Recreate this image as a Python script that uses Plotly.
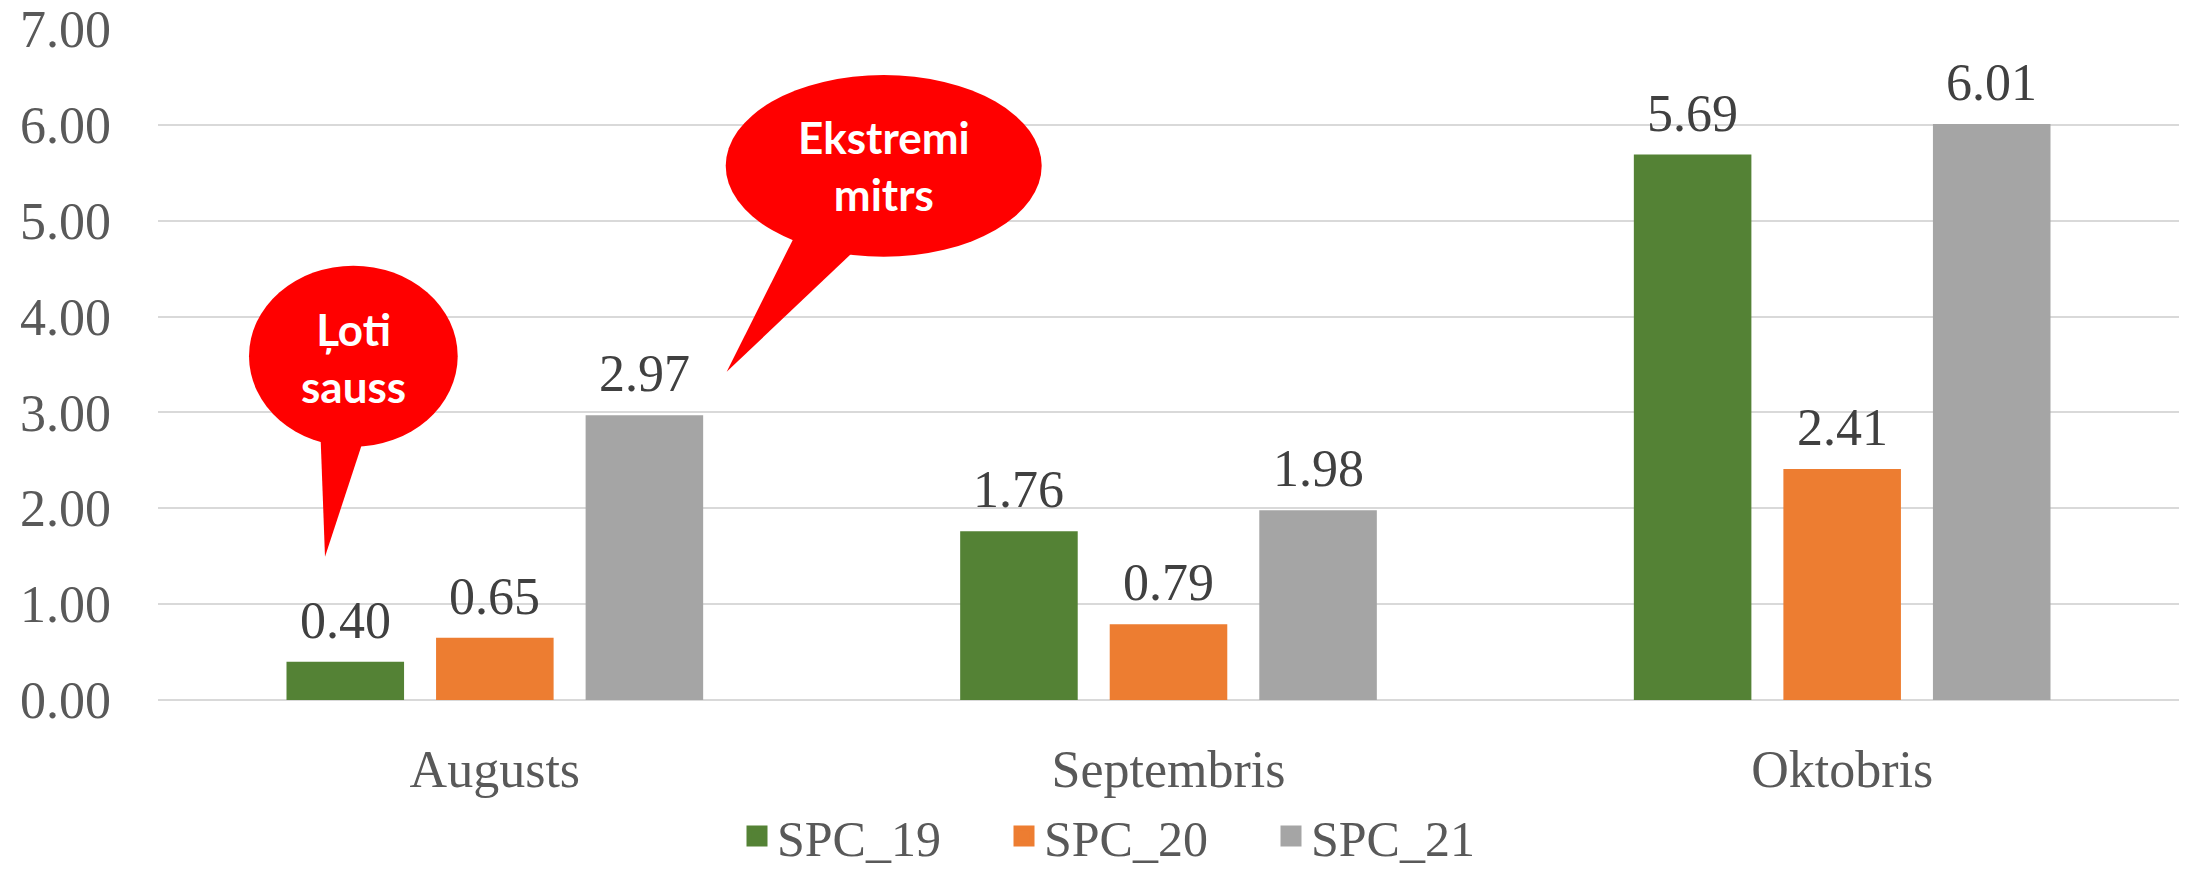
import plotly.graph_objects as go

# ---------------- data ----------------
categories = ["Augusts", "Septembris", "Oktobris"]
series_names = ["SPC_19", "SPC_20", "SPC_21"]
spc_19 = [0.40, 1.76, 5.69]
spc_20 = [0.65, 0.79, 2.41]
spc_21 = [2.97, 1.98, 6.01]
series_colors = ["#548235", "#ED7D31", "#A5A5A5"]
y_tick_values = [0, 1, 2, 3, 4, 5, 6, 7]
y_tick_labels = ["0.00", "1.00", "2.00", "3.00", "4.00", "5.00", "6.00", "7.00"]
callout_texts = ["Ļoti<br>sauss", "Ekstremi<br>mitrs"]

# ---------------- layout geometry (pixels) ----------------
W, H = 2190, 870
ML, MR, MT, MB = 158, 11, 29, 170
PW, PH = W - ML - MR, H - MT - MB

# bar geometry in category units (slot / width of a bar inside its group)
SLOT = 0.222
BAR_W = 0.1745
OFFSETS = [-SLOT, 0.0, SLOT]


def xp(px):
    return (px - ML) / PW


def yp(py):
    return (H - MB - py) / PH


serif = "Liberation Serif, Times New Roman, serif"

fig = go.Figure()
annotations = []
x_idx = list(range(len(categories)))
for k, (name, vals, col) in enumerate(zip(series_names, [spc_19, spc_20, spc_21], series_colors)):
    fig.add_trace(go.Bar(
        x=categories, y=vals, name=name,
        marker=dict(color=col, line=dict(width=0)),
        width=BAR_W, offset=OFFSETS[k] - BAR_W / 2,
        showlegend=False,
        hoverinfo="skip",
    ))
    # data labels
    for i, v in zip(x_idx, vals):
        annotations.append(dict(
            x=i + OFFSETS[k], y=v, xref="x", yref="y",
            text=f"{v:.2f}", showarrow=False,
            xanchor="center", yanchor="bottom", yshift=11,
            font=dict(family=serif, size=52, color="#404040"),
        ))
# legend entries (square swatches)
for name, col in zip(series_names, series_colors):
    fig.add_trace(go.Scatter(
        x=[None], y=[None], mode="markers", name=name,
        marker=dict(symbol="square", size=16, color=col, line=dict(color=col, width=5)),
        showlegend=True,
    ))

# ---------------- callouts ----------------
shapes = []
red = "#FF0000"
# callout 1 : "Ļoti sauss"
shapes.append(dict(type="circle", xref="paper", yref="paper",
                   x0=xp(249), x1=xp(457.7), y0=yp(446.7), y1=yp(265.7),
                   fillcolor=red, line=dict(width=0), layer="above"))
shapes.append(dict(type="path", xref="paper", yref="paper",
                   path=f"M{xp(320.3)},{yp(430)} L{xp(325)},{yp(556.7)} L{xp(364)},{yp(438)} Z",
                   fillcolor=red, line=dict(width=0), layer="above"))
# callout 2 : "Ekstremi mitrs"
shapes.append(dict(type="circle", xref="paper", yref="paper",
                   x0=xp(725.7), x1=xp(1041.7), y0=yp(256.7), y1=yp(75),
                   fillcolor=red, line=dict(width=0), layer="above"))
shapes.append(dict(type="path", xref="paper", yref="paper",
                   path=f"M{xp(798)},{yp(229.5)} L{xp(726.7)},{yp(371.7)} L{xp(862.3)},{yp(243.3)} Z",
                   fillcolor=red, line=dict(width=0), layer="above"))

for txt, cx, cy in zip(callout_texts, [353, 884], [357, 165.5]):
    annotations.append(dict(
        text=f"<b>{txt}</b>", xref="paper", yref="paper",
        x=xp(cx), y=yp(cy), xanchor="center", yanchor="middle",
        showarrow=False, align="center",
        font=dict(family="Lato, Carlito, Calibri, sans-serif", size=44, color="white"),
    ))

fig.update_layout(
    width=W, height=H,
    margin=dict(l=ML, r=MR, t=MT, b=MB, pad=0, autoexpand=False),
    paper_bgcolor="white", plot_bgcolor="white",
    barmode="group",
    font=dict(family=serif, color="#595959"),
    shapes=shapes, annotations=annotations,
    legend=dict(
        orientation="h", xanchor="left", yanchor="middle",
        x=xp(737), y=yp(836),
        font=dict(family=serif, size=50, color="#595959"),
        entrywidth=222, entrywidthmode="pixels",
        bgcolor="rgba(0,0,0,0)",
    ),
)
fig.update_yaxes(
    range=[0, 7], tickvals=y_tick_values, ticktext=y_tick_labels,
    showgrid=True, gridcolor="#D9D9D9", gridwidth=1.5,
    zeroline=True, zerolinecolor="#D9D9D9", zerolinewidth=1.5,
    showline=False, ticks="", automargin=False,
    tickfont=dict(family=serif, size=52, color="#595959"),
    ticklabelstandoff=46, fixedrange=True,
)
fig.update_xaxes(
    range=[-0.5, 2.5],
    showgrid=False, showline=False, ticks="", automargin=False,
    tickfont=dict(family=serif, size=52, color="#595959"),
    ticklabelstandoff=34, fixedrange=True,
)

fig.write_html(
    "out.html",
    config={"displayModeBar": False},
    post_script="document.body.style.margin='0';document.body.style.overflow='hidden';",
)
